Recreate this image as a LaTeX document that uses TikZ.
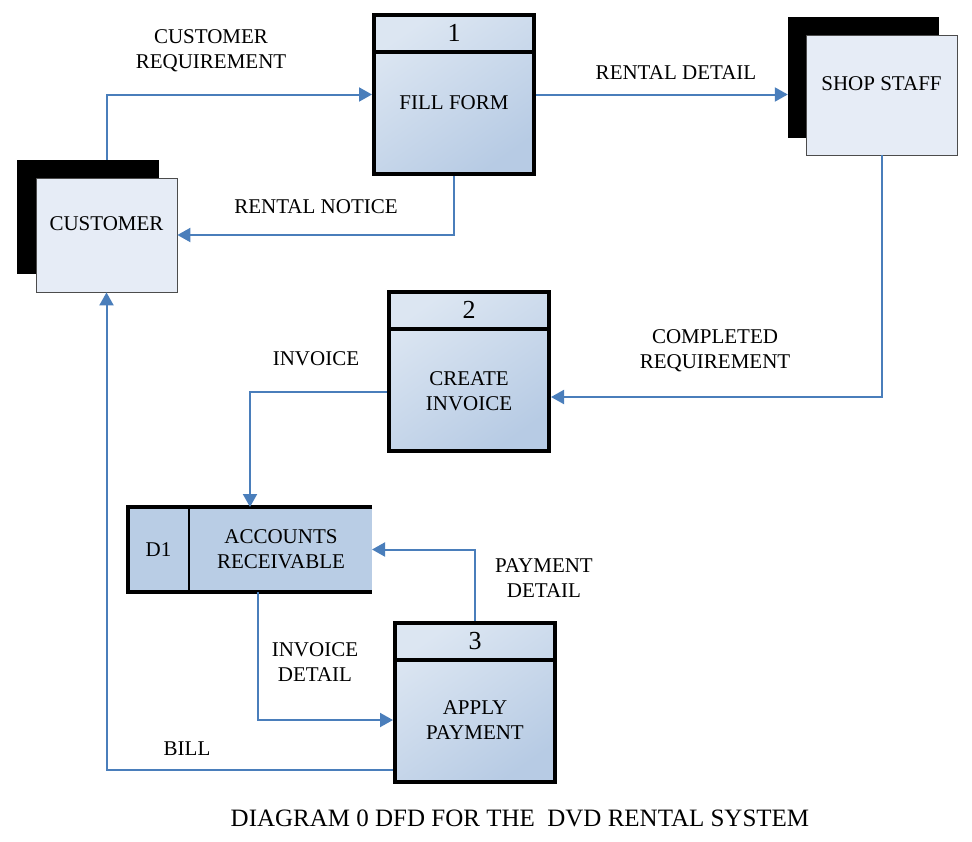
\documentclass[tikz,border=0pt]{standalone}
\usepackage{fontspec}
\setmainfont{Liberation Serif}
\usetikzlibrary{arrows.meta,calc}
\definecolor{flow}{HTML}{4A7EBB}
\definecolor{entfill}{HTML}{E6ECF6}
\definecolor{procL}{HTML}{DCE6F2}
\definecolor{procD}{HTML}{B7CBE4}
\definecolor{dsfill}{HTML}{B9CDE5}
\tikzset{
  txt/.style={font=\fontsize{21}{25}\selectfont, align=center, inner sep=0pt},
  num/.style={font=\fontsize{26}{28}\selectfont, inner sep=0pt},
  proc/.style={draw=black, line width=4pt, minimum width=160pt, minimum height=159pt,
     top color=procL, bottom color=procD, shading angle=35, inner sep=0pt},
  shadowbox/.style={fill=black, draw=black, inner sep=0pt},
  entity/.style={fill=entfill, draw=black!70, line width=0.8pt, inner sep=0pt},
  flowline/.style={draw=flow, line width=2pt, -{Triangle[length=13pt,width=14pt]}},
  divline/.style={line width=4pt}
}
\begin{document}
\begin{tikzpicture}[x=1pt,y=-1pt]
\useasboundingbox (0,0) rectangle (972,841);
% customer
\node[shadowbox, minimum width=141pt, minimum height=113pt] (custS) at (87.5,216.5) {};
\node[entity, minimum width=141pt, minimum height=114pt] (cust) at (106.5,235) {};
\node[txt] (custT) at (106.5,224) {CUSTOMER};
% shop staff
\node[shadowbox, minimum width=150pt, minimum height=120pt] (staffS) at (863,77) {};
\node[entity, minimum width=151pt, minimum height=120pt] (staff) at (881.5,95) {};
\node[txt] (staffT) at (881.5,84) {SHOP STAFF};
% process 1
\node[proc] (p1) at (454,94.5) {};
\draw[divline] ([xshift=2pt,yshift=-39pt]p1.north west) -- ([xshift=-2pt,yshift=-39pt]p1.north east);
\node[num] (p1n) at (454,33) {1};
\node[txt] (p1t) at (454,103) {FILL FORM};
% process 2
\node[proc] (p2) at (469,371) {};
\draw[divline] ([xshift=2pt,yshift=-39pt]p2.north west) -- ([xshift=-2pt,yshift=-39pt]p2.north east);
\node[num] (p2n) at (469,310) {2};
\node[txt] (p2t) at (469,391) {CREATE\\INVOICE};
% process 3
\node[proc] (p3) at (475,702.5) {};
\draw[divline] ([xshift=2pt,yshift=-39pt]p3.north west) -- ([xshift=-2pt,yshift=-39pt]p3.north east);
\node[num] (p3n) at (475,641) {3};
\node[txt] (p3t) at (475,720) {APPLY\\PAYMENT};
% data store
\node[fill=dsfill, minimum width=244pt, minimum height=85pt, inner sep=0pt, outer sep=0pt] (ds) at (250,549.5) {};
\draw[divline] (ds.north east) -- (ds.north west) -- (ds.south west) -- (ds.south east);
\draw[line width=2.5pt] ([xshift=61pt]ds.north west) -- ([xshift=61pt]ds.south west);
\node[txt] (dsid) at (158.5,549.5) {D1};
\node[txt] (dst) at (281,549.5) {ACCOUNTS\\RECEIVABLE};
% flows
\draw[flowline] (cust.north |- custS.north) |- (p1.west);
\draw[flowline] (p1.south) |- (cust.east);
\draw[flowline] (p1.east) -- (staffS.west |- p1.east);
\draw[flowline] (staff.south) |- ([yshift=-26pt]p2.east);
\draw[flowline] ([yshift=-21pt]p2.west) -| (ds.north);
\draw[flowline] ([xshift=8pt]ds.south) |- ([yshift=-17.5pt]p3.west);
\draw[flowline] (p3.north) |- (ds.east);
\draw[flowline] ([yshift=-67.5pt]p3.west) -| (cust.south);
% labels
\node[txt] (l1) at (211,50.5) {CUSTOMER\\REQUIREMENT};
\node[txt] (l2) at (676,73) {RENTAL DETAIL};
\node[txt] (l3) at (316,207) {RENTAL NOTICE};
\node[txt] (l4) at (715,350.5) {COMPLETED\\REQUIREMENT};
\node[txt] (l5) at (316,359) {INVOICE};
\node[txt] (l6) at (544,578.5) {PAYMENT\\DETAIL};
\node[txt] (l7) at (315,662) {INVOICE\\DETAIL};
\node[txt] (l8) at (187,749) {BILL};
\node[txt, font=\fontsize{25}{27}\selectfont] (cap) at (520,818) {DIAGRAM 0 DFD FOR THE \ DVD RENTAL SYSTEM};
\end{tikzpicture}
\end{document}
